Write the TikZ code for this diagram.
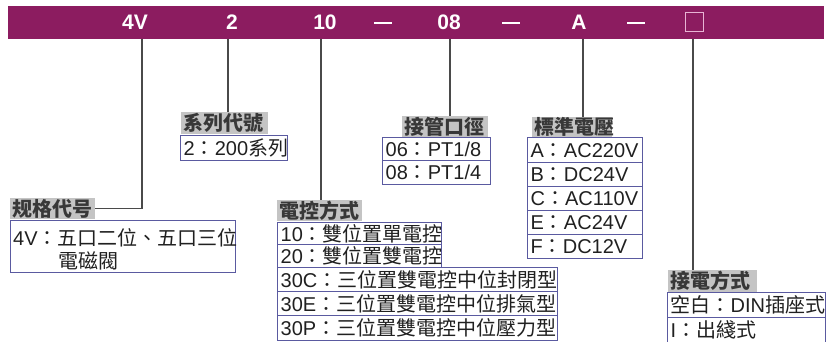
\documentclass[tikz,border=0pt]{standalone}
\usepackage{fontspec}
\setmainfont{Liberation Sans}
\newfontfamily\cjk{Noto Sans CJK TC}
\definecolor{bannerc}{HTML}{8C1C60}
\definecolor{boxc}{HTML}{5A5AA0}
\definecolor{labc}{HTML}{C4C4C4}
\definecolor{labtext}{HTML}{383838}
\definecolor{linec}{HTML}{4A4A4A}
\definecolor{txtc}{HTML}{202020}
\definecolor{sqc}{HTML}{E8B4D4}
\newcommand{\fs}{\fontsize{20}{24}\selectfont}
\newcommand{\C}[1]{{\cjk #1}}
\begin{document}
\begin{tikzpicture}[x=1pt,y=-1pt,
  bannertext/.style={text=white, font=\fontsize{21}{22}\selectfont\bfseries, inner sep=0},
  dashbar/.style={fill=white, minimum width=18pt, minimum height=2.5pt, inner sep=0},
  lab/.style={fill=labc, text=labtext, font=\fs\cjk\bfseries, inner xsep=2.5pt, inner ysep=0, anchor=north west, align=left},
  rowbox/.style={draw=boxc, line width=1.3pt, text=txtc, font=\fs, inner xsep=3pt, inner ysep=0, anchor=north west, align=left},
  conn/.style={draw=linec, line width=1.2pt}]
\useasboundingbox (0,0) rectangle (839,342);
% banner
\node[fill=bannerc, minimum width=816pt, minimum height=33pt, anchor=north west, inner sep=0] (banner) at (8,6) {};
\node[bannertext] (c4v) at (135,22.5) {4V};
\node[bannertext] (c2) at (232,22.5) {2};
\node[bannertext] (c10) at (325,22.5) {10};
\node[dashbar] (d1) at (383,23) {};
\node[bannertext] (c08) at (449,22.5) {08};
\node[dashbar] (d2) at (511,23) {};
\node[bannertext] (cA) at (579,22.5) {A};
\node[dashbar] (d3) at (636,23) {};
\node[draw=sqc, line width=1pt, minimum width=18pt, minimum height=19pt, inner sep=0] (csq) at (694.5,22.5) {};
% connector start points on banner bottom
\coordinate (p1) at (142,39);
\coordinate (p2) at (228,39);
\coordinate (p3) at (321,39);
\coordinate (p4) at (450,39);
\coordinate (p5) at (583,39);
\coordinate (p6) at (693,39);
% labels
\node[lab, text width=80pt, minimum height=21pt] (lab1) at (10,198) {规格代号};
\node[lab, text width=82pt, minimum height=22pt] (lab2) at (181,112) {系列代號};
\node[lab, text width=80pt, minimum height=21pt] (lab3) at (277,200) {電控方式};
\node[lab, text width=81pt, minimum height=21pt] (lab4) at (402,116) {接管口徑};
\node[lab, text width=75pt, minimum height=20pt] (lab5) at (532,117) {標準電壓};
\node[lab, text width=84pt, minimum height=22pt] (lab6) at (668,270) {接電方式};
% connectors
\draw[conn] (p1) |- (lab1.east);
\draw[conn] (p2) -- (p2 |- lab2.north);
\draw[conn] (p3) -- (p3 |- lab3.north);
\draw[conn] (p4) -- (p4 |- lab4.north);
\draw[conn] (p5) -- (p5 |- lab5.north);
\draw[conn] (p6) -- (p6 |- lab6.north);
% boxes: 规格代号
\node[rowbox, text width=219pt, minimum height=52pt] (b1) at (10,220) {};
\node[text=txtc, font=\fs, anchor=west, inner sep=0] (b1a) at (13,238) {4V\C{：五口二位、五口三位}};
\node[text=txtc, font=\fs\cjk, anchor=west, inner sep=0] (b1b) at (58,261) {電磁閥};
% 系列代號
\node[rowbox, text width=101pt, minimum height=25pt] (b2) at (180,135) {2\C{：}200\C{系列}};
% 電控方式
\node[rowbox, text width=158pt, minimum height=22pt] (b3a) at (277,222) {10\C{：雙位置單電控}};
\node[rowbox, text width=158pt, minimum height=23pt] (b3b) at (277,244) {20\C{：雙位置雙電控}};
\node[rowbox, text width=274pt, minimum height=24pt] (b3c) at (277,267) {30C\C{：三位置雙電控中位封閉型}};
\node[rowbox, text width=274pt, minimum height=24pt] (b3d) at (277,291) {30E\C{：三位置雙電控中位排氣型}};
\node[rowbox, text width=274pt, minimum height=25pt] (b3e) at (277,315) {30P\C{：三位置雙電控中位壓力型}};
% 接管口徑
\node[rowbox, text width=102pt, minimum height=23pt] (b4a) at (382,137) {06\C{：}PT1/8};
\node[rowbox, text width=102pt, minimum height=24pt] (b4b) at (382,160) {08\C{：}PT1/4};
% 標準電壓
\node[rowbox, text width=109pt, minimum height=25pt] (b5a) at (527,137) {A\C{：}AC220V};
\node[rowbox, text width=109pt, minimum height=24pt] (b5b) at (527,162) {B\C{：}DC24V};
\node[rowbox, text width=109pt, minimum height=24pt] (b5c) at (527,186) {C\C{：}AC110V};
\node[rowbox, text width=109pt, minimum height=24pt] (b5d) at (527,210) {E\C{：}AC24V};
\node[rowbox, text width=109pt, minimum height=24pt] (b5e) at (527,234) {F\C{：}DC12V};
% 接電方式
\node[rowbox, text width=152pt, minimum height=25pt] (b6a) at (667,292) {\C{空白：}DIN\C{插座式}};
\node[rowbox, text width=152pt, minimum height=25pt] (b6b) at (667,317) {I\C{：出綫式}};
\end{tikzpicture}
\end{document}
